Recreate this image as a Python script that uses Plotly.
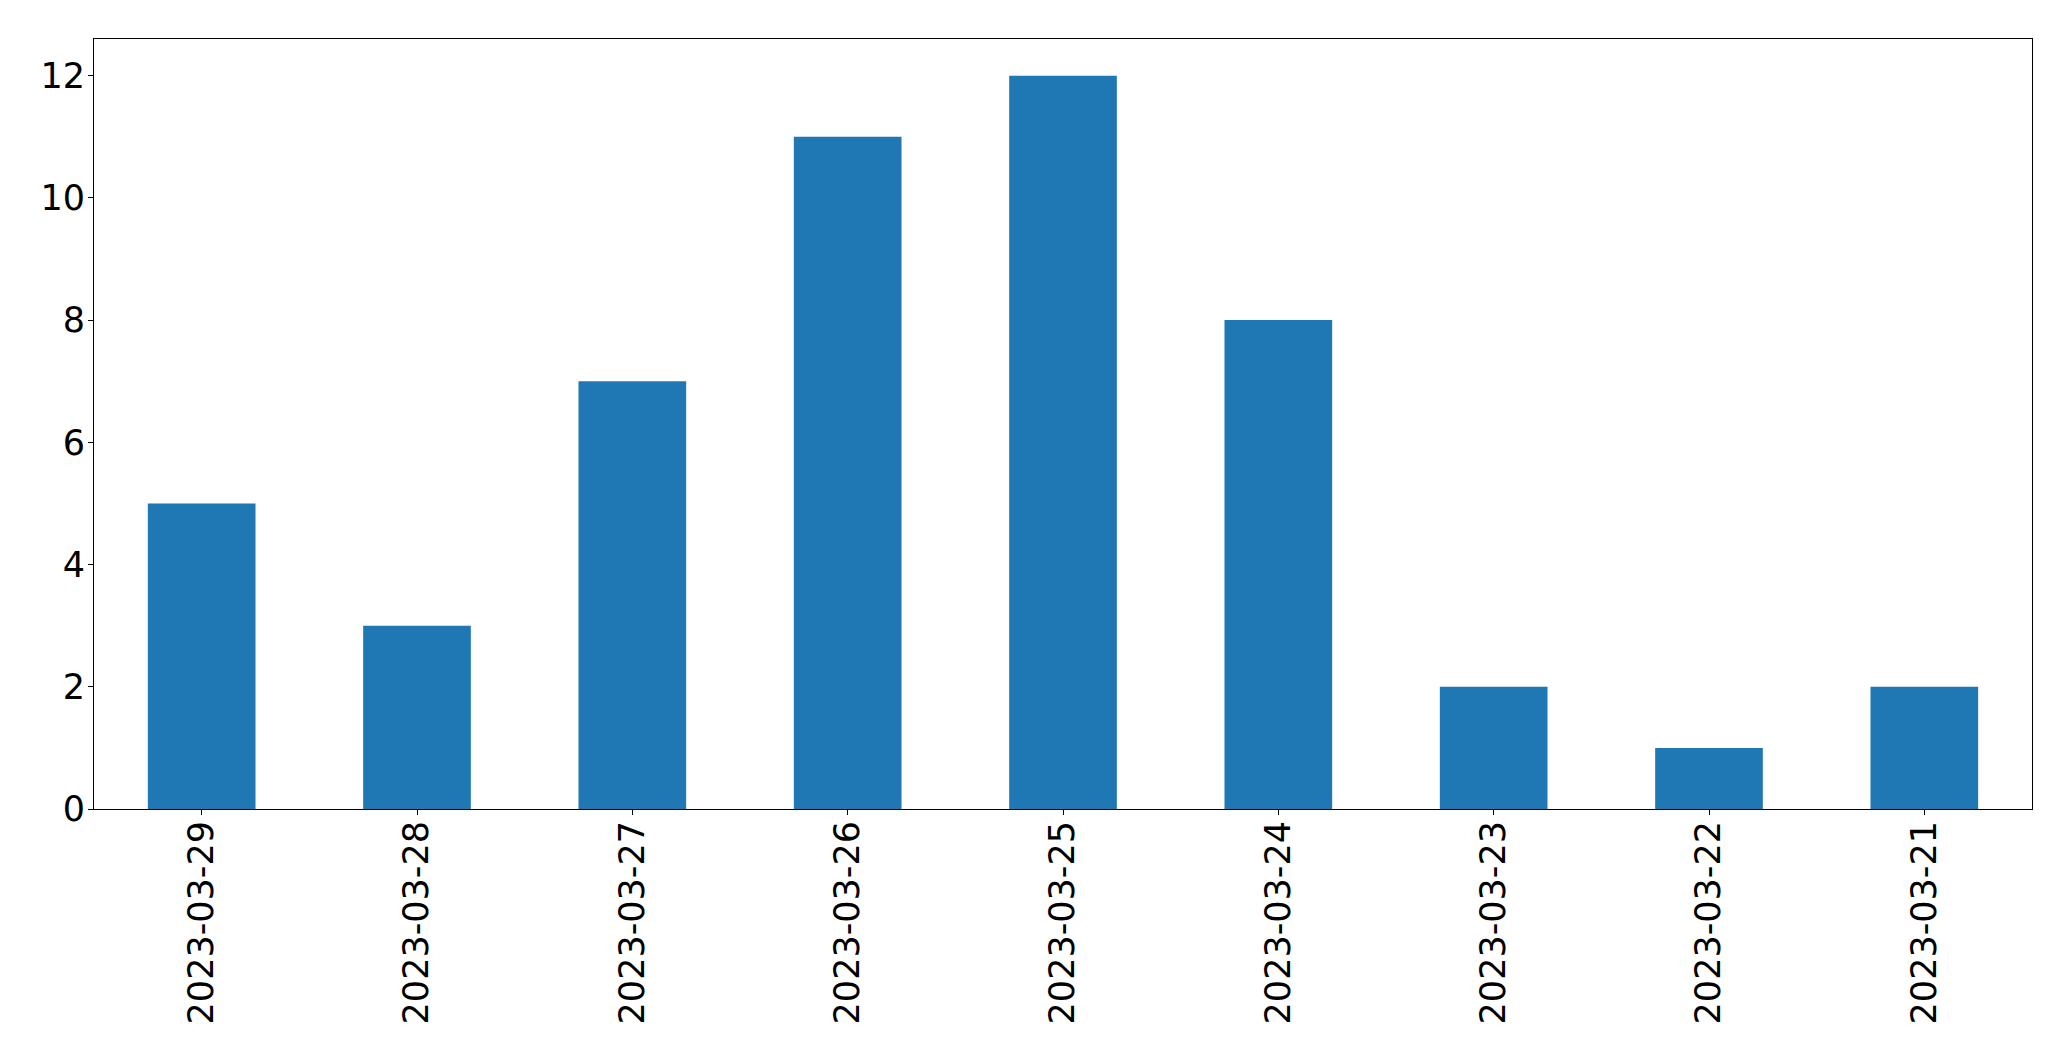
import plotly.graph_objects as go

dates = ["2023-03-29", "2023-03-28", "2023-03-27", "2023-03-26", "2023-03-25",
         "2023-03-24", "2023-03-23", "2023-03-22", "2023-03-21"]
counts = [5, 3, 7, 11, 12, 8, 2, 1, 2]

fig = go.Figure()
fig.add_trace(go.Bar(x=dates, y=counts, width=0.5, marker=dict(color="#1f77b4", line=dict(width=0)),
                     showlegend=False))

axis_common = dict(showline=True, mirror=True, linecolor="black", linewidth=1,
                   showgrid=False, zeroline=False, ticks="outside", ticklen=5,
                   tickcolor="black", tickwidth=1,
                   tickfont=dict(family="DejaVu Sans", size=35, color="black"))
# page body has an 8px margin, so the figure is shrunk by that much
fig.update_layout(
    width=2063, height=1053,
    margin=dict(l=86, r=39, t=31, b=252),
    plot_bgcolor="white", paper_bgcolor="white",
    xaxis=dict(type="category", range=[-0.5, 8.5], tickangle=-90,
               ticklabelstandoff=-8, **axis_common),
    yaxis=dict(range=[0, 12.6], tickvals=[0, 2, 4, 6, 8, 10, 12],
               ticklabelstandoff=-4, **axis_common),
)
fig.write_html("out.html")
